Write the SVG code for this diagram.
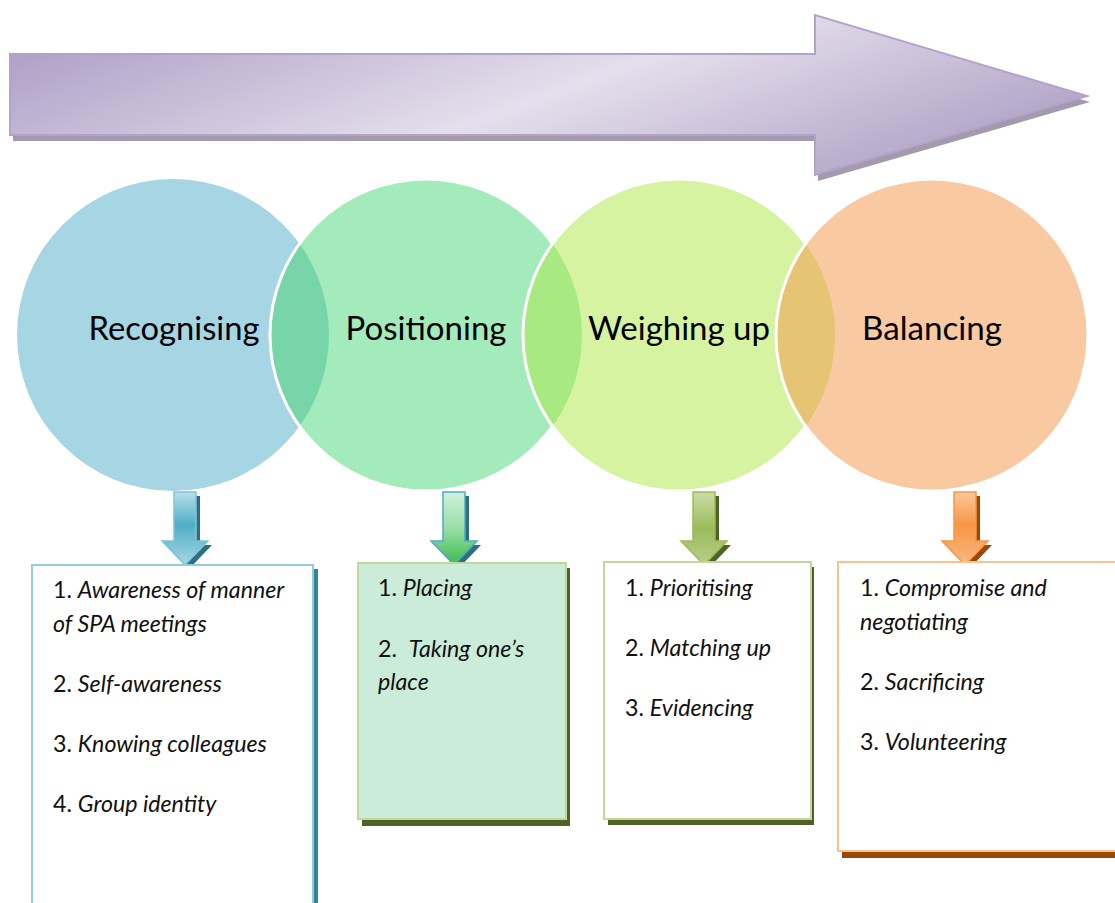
<svg xmlns="http://www.w3.org/2000/svg" width="1115" height="903" viewBox="0 0 1115 903">
<defs>
<style>
.lbl{font-family:Lato,"Liberation Sans",sans-serif;font-size:33px;fill:#000;text-anchor:middle}
.item{font-family:Lato,"Liberation Sans",sans-serif;font-size:23.2px;fill:#111}
.it{font-style:italic}
.ring{fill:none;stroke:#fff;stroke-width:3}
</style>
<linearGradient id="gBig" x1="0" y1="0.3" x2="1" y2="0.7">
<stop offset="0" stop-color="#b2a2c8"/>
<stop offset="0.5" stop-color="#e4dfeb"/>
<stop offset="1" stop-color="#ae9ec4"/>
</linearGradient>
<linearGradient id="gA1" x1="0" y1="0" x2="0" y2="1">
<stop offset="0" stop-color="#b9dfe9"/>
<stop offset="0.45" stop-color="#4eaec7"/>
<stop offset="1" stop-color="#a9d7e4"/>
</linearGradient>
<linearGradient id="gA2" x1="0" y1="0" x2="0" y2="1">
<stop offset="0" stop-color="#d3f0dc"/>
<stop offset="0.5" stop-color="#98dea6"/>
<stop offset="0.9" stop-color="#4cc05f"/>
</linearGradient>
<linearGradient id="gA3" x1="0" y1="0" x2="0" y2="1">
<stop offset="0" stop-color="#cbdda7"/>
<stop offset="0.5" stop-color="#9bbb59"/>
<stop offset="1" stop-color="#b8cf8a"/>
</linearGradient>
<linearGradient id="gA4" x1="0" y1="0" x2="0" y2="1">
<stop offset="0" stop-color="#fbc89c"/>
<stop offset="0.45" stop-color="#f79646"/>
<stop offset="1" stop-color="#fab784"/>
</linearGradient>
<clipPath id="cc1"><circle cx="173" cy="335" r="156"/></clipPath>
<clipPath id="cc2"><circle cx="426" cy="335" r="156"/></clipPath>
<clipPath id="cc3"><circle cx="679" cy="335" r="156"/></clipPath>
<path id="bigArrow" d="M10,54 L815,54 L815,15 L1087,96 L815,175 L815,135 L10,135 Z"/>
<path id="dArrow" d="M-11,0 L11,0 L11,49 L23,49 L0,73 L-23,49 L-11,49 Z"/>
</defs>
<rect width="1115" height="903" fill="#fff"/>

<g id="progress-arrow">
<use href="#bigArrow" transform="translate(3,6)" fill="#a39bad"/>
<use href="#bigArrow" fill="url(#gBig)" stroke="#b3a3cb" stroke-width="2"/>
</g>

<g id="recognising">
<circle cx="173" cy="335" r="156" fill="#a6d5e3"/>
<text class="lbl" x="174" y="340" textLength="171" lengthAdjust="spacingAndGlyphs">Recognising</text>
</g>
<g id="positioning">
<circle cx="426" cy="335" r="156" fill="#a4ebbb"/>
<circle cx="426" cy="335" r="156" fill="#78d5a9" clip-path="url(#cc1)"/>
<circle class="ring" cx="426" cy="335" r="156"/>
<text class="lbl" x="426" y="340" textLength="161" lengthAdjust="spacingAndGlyphs">Positioning</text>
</g>
<g id="weighing-up">
<circle cx="679" cy="335" r="156" fill="#d5f3a0"/>
<circle cx="679" cy="335" r="156" fill="#a9e982" clip-path="url(#cc2)"/>
<circle class="ring" cx="679" cy="335" r="156"/>
<text class="lbl" x="679" y="340" textLength="182" lengthAdjust="spacingAndGlyphs">Weighing up</text>
</g>
<g id="balancing">
<circle cx="932" cy="335" r="156" fill="#f9c9a1"/>
<circle cx="932" cy="335" r="156" fill="#e5c474" clip-path="url(#cc3)"/>
<circle class="ring" cx="932" cy="335" r="156"/>
<text class="lbl" x="932" y="340" textLength="140" lengthAdjust="spacingAndGlyphs">Balancing</text>
</g>

<g id="connectors">
<g transform="translate(185,492)">
<use href="#dArrow" transform="translate(4,4)" fill="#2e6e80"/>
<use href="#dArrow" fill="url(#gA1)" stroke="#7fc4d7" stroke-width="1.5"/>
</g>
<g transform="translate(454,492)">
<use href="#dArrow" transform="translate(4,4)" fill="#2e6e80"/>
<use href="#dArrow" fill="url(#gA2)" stroke="#4bacc6" stroke-width="1.5"/>
</g>
<g transform="translate(704,492)">
<use href="#dArrow" transform="translate(4,4)" fill="#4f6228"/>
<use href="#dArrow" fill="url(#gA3)" stroke="#9bbb59" stroke-width="1.5"/>
</g>
<g transform="translate(965,492)">
<use href="#dArrow" transform="translate(4,4)" fill="#984807"/>
<use href="#dArrow" fill="url(#gA4)" stroke="#f79646" stroke-width="1.5"/>
</g>
</g>

<g id="box-recognising">
<rect x="36" y="569" width="282" height="345" fill="#31849b"/>
<rect x="32" y="565" width="281" height="345" fill="#fff" stroke="#92cddc" stroke-width="2"/>
<text class="item" x="53" y="598">1. <tspan class="it">Awareness of manner</tspan></text>
<text class="item it" x="53" y="632">of SPA meetings</text>
<text class="item" x="53" y="692">2. <tspan class="it">Self-awareness</tspan></text>
<text class="item" x="53" y="752">3. <tspan class="it">Knowing colleagues</tspan></text>
<text class="item" x="53" y="812">4. <tspan class="it">Group identity</tspan></text>
</g>
<g id="box-positioning">
<rect x="362" y="568" width="208" height="258" fill="#4f6228"/>
<rect x="358" y="563" width="208" height="256" fill="#ccecda" stroke="#c3d69b" stroke-width="2"/>
<text class="item" x="378" y="596">1. <tspan class="it">Placing</tspan></text>
<text class="item" x="378" y="657">2.&#160; <tspan class="it">Taking one’s</tspan></text>
<text class="item it" x="378" y="690">place</text>
</g>
<g id="box-weighing-up">
<rect x="608" y="567" width="206" height="258" fill="#4f6228"/>
<rect x="604" y="562" width="207" height="257" fill="#fff" stroke="#c3d69b" stroke-width="2"/>
<text class="item" x="625" y="596">1. <tspan class="it">Prioritising</tspan></text>
<text class="item" x="625" y="656">2. <tspan class="it">Matching up</tspan></text>
<text class="item" x="625" y="716">3. <tspan class="it">Evidencing</tspan></text>
</g>
<g id="box-balancing">
<rect x="842" y="566" width="290" height="292" fill="#984807"/>
<rect x="838" y="562" width="290" height="289" fill="#fff" stroke="#fac08f" stroke-width="2"/>
<text class="item" x="860" y="596">1. <tspan class="it">Compromise and</tspan></text>
<text class="item it" x="860" y="630">negotiating</text>
<text class="item" x="860" y="690">2. <tspan class="it">Sacrificing</tspan></text>
<text class="item" x="860" y="750">3. <tspan class="it">Volunteering</tspan></text>
</g>
</svg>
